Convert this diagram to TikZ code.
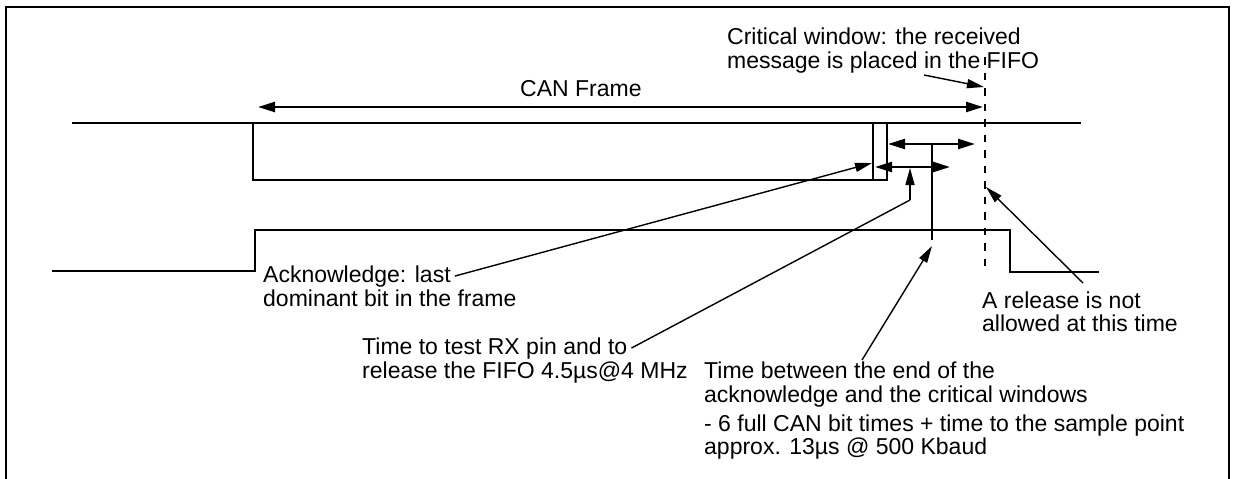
\documentclass[tikz,border=0pt]{standalone}
\usepackage{fontspec}
\setmainfont{Liberation Sans}
\usetikzlibrary{arrows.meta}
\begin{document}
\begin{tikzpicture}[x=1pt,y=-1pt,
  trace/.style={line width=2.5pt, line join=miter, line cap=butt},
  frameline/.style={line width=2.6pt},
  dimarrow/.style={line width=2.5pt, {Triangle[length=17pt,width=10pt]}-{Triangle[length=17pt,width=10pt]}},
  ptr/.style={line width=1.4pt, -{Triangle[length=17pt,width=9pt]}},
  ptrline/.style={line width=1.4pt},
  critline/.style={line width=2.2pt, dash pattern=on 7.5pt off 8pt},
  lbl/.style={inner sep=0pt, anchor=base west, font=\fontsize{23}{24}\selectfont}]
\useasboundingbox (0,0) rectangle (1237,479);
% frame
\draw[frameline] (6,479) -- (6,7) -- (1229,7) -- (1229,479);
% upper trace (CAN frame)
\draw[trace] (72,123) -- (1081,123);
\draw[trace] (253,123) -- (253,180) -- (887,180) -- (887,123);
\draw[trace] (873,123) -- (873,180);
% lower trace
\draw[trace] (52,271) -- (255,271) -- (255,230) -- (1010,230) -- (1010,272) -- (1099,272);
% critical window dashed line
\coordinate (dtop) at (985,57);
\coordinate (dbot) at (985,268);
\draw[critline] (dtop) -- (dbot);
% CAN frame arrow
\coordinate (cfL) at (258,107);
\coordinate (cfR) at (983,107);
\draw[dimarrow] (cfL) -- (cfR);
\node[lbl] (canf) at (520,96) {CAN Frame};
% small dimension arrows
\coordinate (a1L) at (888,144);
\coordinate (a1R) at (975,144);
\coordinate (a1M) at (932,144);
\coordinate (a1B) at (932,240);
\draw[dimarrow] (a1L) -- (a1R);
\draw[trace] (a1M) -- (a1B);
\coordinate (a2L) at (875,167);
\coordinate (a2R) at (950,167);
\draw[dimarrow] (a2L) -- (a2R);
% texts
\node[lbl] (crit1) at (727,44) {Critical window: the received};
\node[lbl] (crit2) at (727,68) {message is placed in the FIFO};
\node[lbl] (ack1) at (263,282) {Acknowledge: last};
\node[lbl] (ack2) at (263,306) {dominant bit in the frame};
\node[lbl] (ttt1) at (362,354) {Time to test RX pin and to};
\node[lbl] (ttt2) at (362,378) {release the FIFO 4.5µs@4 MHz};
\node[lbl] (tb1) at (704,378) {Time between the end of the};
\node[lbl] (tb2) at (704,402) {acknowledge and the critical windows};
\node[lbl] (tb3) at (704,431) {- 6 full CAN bit times + time to the sample point};
\node[lbl] (tb4) at (704,454) {approx. 13µs @ 500 Kbaud};
\node[lbl] (rel1) at (982,308) {A release is not};
\node[lbl] (rel2) at (982,331) {allowed at this time};
% pointers
\coordinate (critT) at (924,75);
\coordinate (critH) at (984,87);
\draw[ptr] (critT) -- (critH);
\coordinate (ackH) at (872,163);
\draw[ptr] ([xshift=4pt]ack1.east) -- (ackH);
\coordinate (tttK) at (910,200);
\coordinate (tttH) at (910,168);
\draw[ptrline] ([xshift=4pt]ttt1.east) -- (tttK);
\draw[ptr] (tttK) -- (tttH);
\coordinate (tbT) at (862,360);
\coordinate (tbH) at (932,246);
\draw[ptr] (tbT) -- (tbH);
\coordinate (relT) at (1083,283);
\coordinate (relH) at (986,187);
\draw[ptr] (relT) -- (relH);
\end{tikzpicture}
\end{document}
